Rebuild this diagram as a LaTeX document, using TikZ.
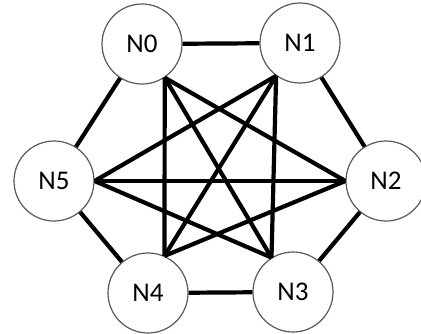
\documentclass[tikz,border=0pt]{standalone}
\usepackage{fontspec}
\setmainfont{Carlito}
\usepackage{tikz}

\begin{document}
\begin{tikzpicture}[
x=1pt,y=-1pt,
vertex/.style={circle,draw=black!65,line width=1.2pt,fill=white,minimum size=80pt,inner sep=0pt,font=\fontsize{27}{30}\selectfont},
link/.style={line width=4.2pt,black}
]
\useasboundingbox (0,0) rectangle (421,333);

\node[vertex] (n0) at (142,44) {N0};
\node[vertex] (n1) at (300,43) {N1};
\node[vertex] (n2) at (386,181) {N2};
\node[vertex] (n3) at (293,292) {N3};
\node[vertex] (n4) at (148,293) {N4};
\node[vertex] (n5) at (54,181) {N5};

% ring
\draw[link] (n0) -- (n1);
\draw[link] (n1) -- (n2);
\draw[link] (n2) -- (n3);
\draw[link] (n3) -- (n4);
\draw[link] (n4) -- (n5);
\draw[link] (n5) -- (n0);

% inner star
\draw[link] (n0.-56) -- (n4.66);
\draw[link] (n0.-56) -- (n3.122);
\draw[link] (n0.-56) -- (n2.180);
\draw[link] (n1.234) -- (n3.122);
\draw[link] (n1.234) -- (n4.66);
\draw[link] (n1.234) -- (n5.0);
\draw[link] (n5.0) -- (n2.180);
\draw[link] (n5.0) -- (n3.122);
\draw[link] (n4.66) -- (n2.180);

\end{tikzpicture}
\end{document}
